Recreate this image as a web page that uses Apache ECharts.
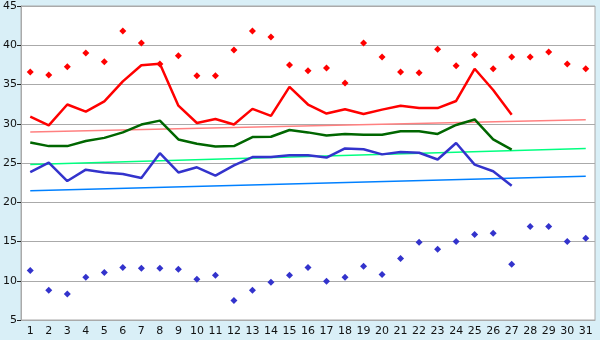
<!DOCTYPE html>
<html>
<head>
<meta charset="utf-8">
<script src="https://cdn.jsdelivr.net/npm/echarts@6/dist/echarts.min.js"></script>
<style>
  html, body { margin: 0; padding: 0; background: #d9eff7; }
  #chart { width: 600px; height: 340px; }
</style>
</head>
<body>
<div id="chart"></div>
<script>
const days = Array.from({ length: 31 }, (_, i) => String(i + 1));

// daily extremes (diamonds)
const maxPoints = [36.6, 36.2, 37.25, 39.0, 37.9, 41.8, 40.3, 37.6, 38.65, 36.1,
  36.1, 39.4, 41.8, 41.05, 37.5, 36.75, 37.1, 35.2, 40.3, 38.5,
  36.6, 36.5, 39.5, 37.4, 38.8, 37.0, 38.5, 38.5, 39.15, 37.6, 37.0];
const minPoints = [11.3, 8.8, 8.3, 10.45, 11.05, 11.7, 11.6, 11.6, 11.45, 10.2,
  10.7, 7.5, 8.8, 9.8, 10.7, 11.7, 9.95, 10.45, 11.85, 10.8,
  12.85, 14.9, 14.0, 15.0, 15.9, 16.05, 12.1, 16.9, 16.9, 15.0, 15.4];

// running lines (days 1-27)
const highLine = [30.9, 29.8, 32.45, 31.55, 32.85, 35.4, 37.45, 37.65, 32.3, 30.1,
  30.6, 29.9, 31.9, 31.0, 34.7, 32.45, 31.3, 31.85, 31.25, 31.8,
  32.3, 32.0, 32.0, 32.9, 37.0, 34.3, 31.15];
const meanLine = [27.6, 27.15, 27.15, 27.8, 28.2, 28.9, 29.9, 30.4, 28.0, 27.45,
  27.1, 27.15, 28.3, 28.35, 29.2, 28.9, 28.5, 28.7, 28.6, 28.6,
  29.05, 29.05, 28.7, 29.85, 30.55, 28.0, 26.7];
const lowLine = [23.85, 25.05, 22.7, 24.15, 23.8, 23.6, 23.1, 26.25, 23.8, 24.45,
  23.4, 24.7, 25.75, 25.75, 26.0, 26.0, 25.7, 26.85, 26.75, 26.1,
  26.4, 26.3, 25.45, 27.55, 24.8, 23.95, 22.1];

// trend lines: values at day 1 and day 31
const highTrend = [28.95, 30.5];
const meanTrend = [24.8, 26.85];
const lowTrend = [21.45, 23.3];

const yTicks = [5, 10, 15, 20, 25, 30, 35, 40, 45];

const trendData = (ends) => days.map((d, i) => (i === 0 ? ends[0] : i === days.length - 1 ? ends[1] : null));

const chart = echarts.init(document.getElementById('chart'));

const lineSeries = (data, color, width) => ({
  type: 'line',
  data,
  symbol: 'none',
  lineStyle: { color, width },
  z: 3,
});

const trendSeries = (ends, color) => ({
  type: 'line',
  data: trendData(ends),
  connectNulls: true,
  symbol: 'none',
  lineStyle: { color, width: 1.5 },
  z: 2,
});

const dotSeries = (data, color) => ({
  type: 'scatter',
  data,
  symbol: 'diamond',
  symbolSize: 7,
  itemStyle: { color, opacity: 1 },
  z: 4,
});

chart.setOption({
  animation: false,
  backgroundColor: '#d9eff7',
  grid: {
    left: 21, right: 5, top: 6, bottom: 20,
    show: true, backgroundColor: '#ffffff', borderColor: '#aaaaaa', borderWidth: 1,
  },
  xAxis: {
    type: 'category',
    data: days,
    boundaryGap: true,
    axisLine: { lineStyle: { color: '#aaaaaa' } },
    axisTick: { alignWithLabel: true, length: 5, lineStyle: { color: '#222' } },
    axisLabel: { color: '#111', fontSize: 11, fontFamily: 'DejaVu Sans', margin: 6, interval: 0 },
    splitLine: { show: false },
  },
  yAxis: {
    type: 'value',
    min: yTicks[0],
    max: yTicks[yTicks.length - 1],
    interval: 5,
    axisLine: { show: true, lineStyle: { color: '#aaaaaa' } },
    axisTick: { show: true, length: 4, lineStyle: { color: '#222' } },
    axisLabel: { color: '#111', fontSize: 11, fontFamily: 'DejaVu Sans', margin: 4 },
    splitLine: { lineStyle: { color: '#aaaaaa', width: 1 } },
  },
  series: [
    trendSeries(highTrend, '#ff8080'),
    trendSeries(meanTrend, '#00ff80'),
    trendSeries(lowTrend, '#0080ff'),
    lineSeries(highLine, '#ff0000', 2.5),
    lineSeries(meanLine, '#006600', 2.5),
    lineSeries(lowLine, '#3333cc', 2.5),
    dotSeries(maxPoints, '#ff0000'),
    dotSeries(minPoints, '#3333cc'),
  ],
});
</script>
</body>
</html>
